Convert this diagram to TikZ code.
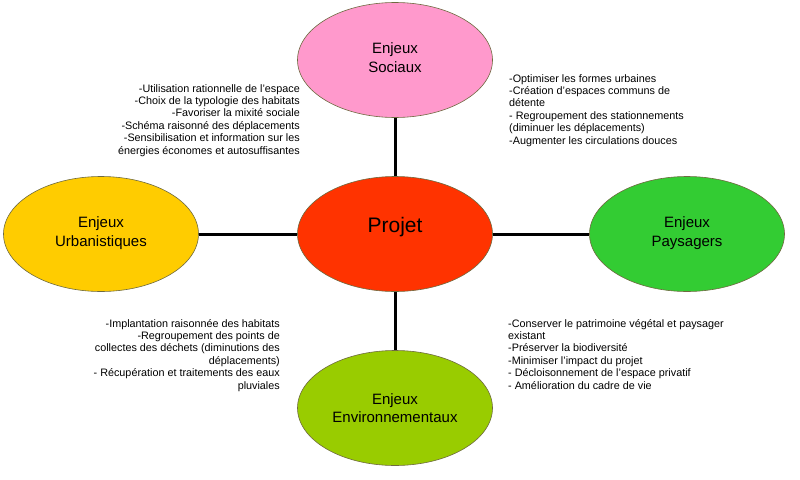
\documentclass[tikz,border=0pt]{standalone}
\usepackage{fontspec}
\setmainfont{Liberation Sans}
\usetikzlibrary{shapes.geometric}
\definecolor{cSoc}{HTML}{FF99CC}
\definecolor{cProj}{HTML}{FF3300}
\definecolor{cUrb}{HTML}{FFCC00}
\definecolor{cPay}{HTML}{33CC33}
\definecolor{cEnv}{HTML}{99CC00}
\definecolor{cEdge}{HTML}{6E6A40}
\begin{document}
\begin{tikzpicture}[x=1pt,y=-1pt,
  enjeu/.style={ellipse, draw=cEdge, line width=0.6pt, minimum width=195pt, minimum height=115pt,
    inner sep=0pt, align=center, font=\fontsize{15}{18.5}\selectfont},
  link/.style={line width=3pt, black},
  liste/.style={inner sep=0pt, font=\fontsize{10.8}{12.4}\selectfont}]
\useasboundingbox (0,0) rectangle (800,479);
\node[enjeu, fill=cSoc] (soc) at (395,60) {Enjeux\\Sociaux\\[-14pt]};
\node[enjeu, fill=cProj, font=\fontsize{21}{24}\selectfont] (proj) at (395,234) {Projet\\[-6pt]};
\node[enjeu, fill=cUrb] (urb) at (101,234) {Enjeux\\Urbanistiques\\[-14pt]};
\node[enjeu, fill=cPay] (pay) at (687,234) {Enjeux\\Paysagers\\[-14pt]};
\node[enjeu, fill=cEnv] (env) at (395,408) {Enjeux\\Environnementaux};
\draw[link] (soc) -- (proj);
\draw[link] (urb) -- (proj);
\draw[link] (proj) -- (pay);
\draw[link] (proj) -- (env);
\node[liste, anchor=north east, align=right] (tl) at (300,84) {-Utilisation rationnelle de l'espace\\-Choix de la typologie des habitats\\-Favoriser la mixité sociale\\-Schéma raisonné des déplacements\\-Sensibilisation et information sur les\\énergies économes et autosuffisantes};
\node[liste, anchor=north west, align=left] (tr) at (509,74) {-Optimiser les formes urbaines\\-Création d'espaces communs de\\détente\\- Regroupement des stationnements\\(diminuer les déplacements)\\-Augmenter les circulations douces};
\node[liste, anchor=north east, align=right] (bl) at (280,319) {-Implantation raisonnée des habitats\\-Regroupement des points de\\collectes des déchets (diminutions des\\déplacements)\\- Récupération et traitements des eaux\\pluviales};
\node[liste, anchor=north west, align=left] (br) at (508,319) {-Conserver le patrimoine végétal et paysager\\existant\\-Préserver la biodiversité\\-Minimiser l'impact du projet\\- Décloisonnement de l'espace privatif\\- Amélioration du cadre de vie};
\end{tikzpicture}
\end{document}
